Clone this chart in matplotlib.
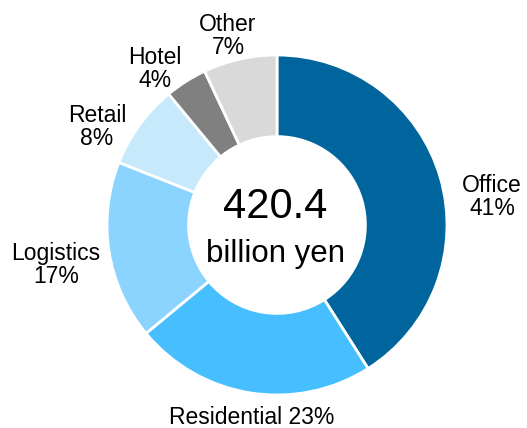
import matplotlib
matplotlib.use("Agg")
from matplotlib import pyplot as plt

# 资产类别构成
labels = ['Office', 'Residential', 'Logistics', 'Retail', 'Hotel', 'Other']
shares = [41, 23, 17, 8, 4, 7]
colors = ['#00659C', '#47BFFF', '#8BD4FF', '#C6E9FB', '#808080', '#D9D9D9']

total_text = '420.4'
unit_text = 'billion yen'

plt.rcParams['font.family'] = ['Liberation Sans', 'DejaVu Sans']

fig = plt.figure(figsize=(5.27, 4.28), dpi=100)
ax = fig.add_axes([0, 0, 1, 1])

cx, cy, r = 277, 203, 170
ax.pie(shares, colors=colors, startangle=90, counterclock=False,
       center=(cx, cy), radius=r, frame=True,
       wedgeprops=dict(width=r * 0.48, edgecolor='white', linewidth=2))
ax.set_xlim(0, 527)
ax.set_ylim(0, 428)
ax.set_aspect('equal')
ax.axis('off')

# 中间的总额
ax.text(cx - 2, 221, total_text, fontsize=30, ha='center', va='center')
ax.text(cx - 2, 174, unit_text, fontsize=22.5, ha='center', va='center')

# 各类别标签位置
label_pos = {
    'Office': (492, 231, '\n'),
    'Residential': (252, 10, ' '),
    'Logistics': (56, 163, '\n'),
    'Retail': (97, 301, '\n'),
    'Hotel': (155, 359, '\n'),
    'Other': (228, 392, '\n'),
}
for name, s in zip(labels, shares):
    x, y, sep = label_pos[name]
    ax.text(x, y, f'{name}{sep}{s}%', fontsize=16.5, ha='center', va='center',
            linespacing=1.0)

fig.savefig('out.png', dpi=100)
